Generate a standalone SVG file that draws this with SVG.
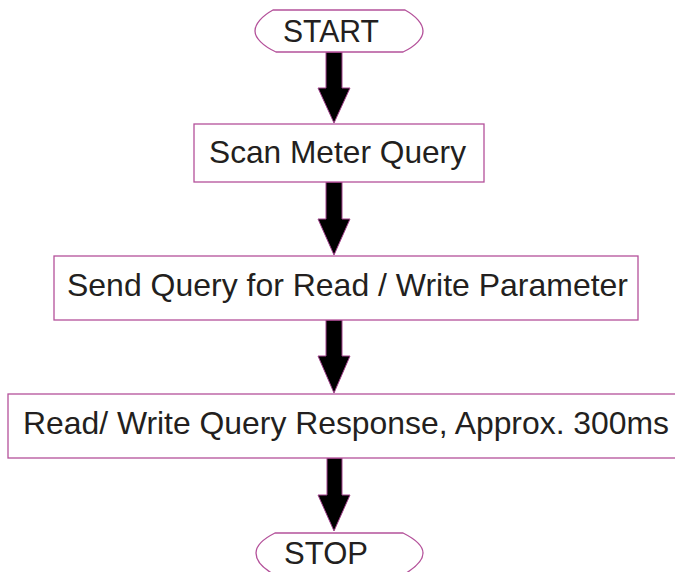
<svg xmlns="http://www.w3.org/2000/svg" width="675" height="572" viewBox="0 0 675 572">
<style>
.box{fill:#fff;stroke:#b4519a;stroke-width:1.3}
.term{fill:#fff;stroke:#b4519a;stroke-width:1.3}
.lbl{font-family:"Liberation Sans",Arial,sans-serif;font-size:32px;fill:#231f20}
.arr{fill:#000;stroke:#a0408a;stroke-width:1}
</style>
<rect width="675" height="572" fill="#fff"/>
<g id="connectors">
<path class="arr" d="M326,52 H342 V88 H350 L334,123 L318,88 H326 Z"/>
<path class="arr" d="M326,182 H342 V219 H350 L334,255 L318,219 H326 Z"/>
<path class="arr" d="M326,320 H342 V356 H350 L334,393 L318,356 H326 Z"/>
<path class="arr" d="M327,458 H342 V495 H350 L334,531 L318,495 H327 Z"/>
</g>
<g id="start">
<path class="term" d="M273,10 H405 C416,16 423,24 423,31 C423,38 416,46 403,52 H276 C263,46 255,38 255,31 C255,24 262,16 273,10 Z"/>
<text class="lbl" x="283" y="42" font-size="30" textLength="96" lengthAdjust="spacingAndGlyphs">START</text>
</g>
<g id="scan">
<rect class="box" x="194" y="124" width="290" height="58"/>
<text class="lbl" x="209" y="162.5" textLength="257" lengthAdjust="spacingAndGlyphs">Scan Meter Query</text>
</g>
<g id="send">
<rect class="box" x="54" y="256" width="584" height="64"/>
<text class="lbl" x="67" y="296" textLength="561" lengthAdjust="spacingAndGlyphs">Send Query for Read / Write Parameter</text>
</g>
<g id="response">
<rect class="box" x="8" y="394" width="670" height="64"/>
<text class="lbl" x="23" y="434" textLength="646" lengthAdjust="spacingAndGlyphs">Read/ Write Query Response, Approx. 300ms</text>
</g>
<g id="stop">
<path class="term" d="M275,533 H403 C415,539 423,546 423,553 C423,561 415,568 403,575 H275 C262,568 256,561 256,553 C256,546 263,539 275,533 Z"/>
<text class="lbl" x="284" y="564" font-size="30" textLength="84" lengthAdjust="spacingAndGlyphs">STOP</text>
</g>
</svg>
